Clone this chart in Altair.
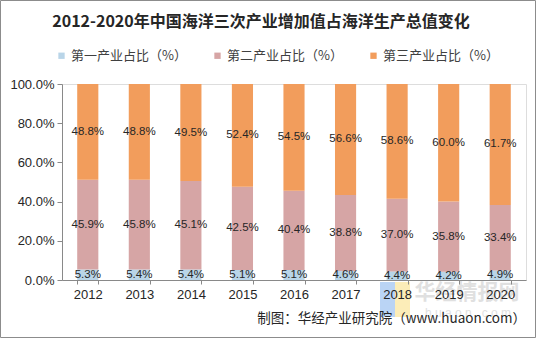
import altair as alt
import pandas as pd

years = ["2012", "2013", "2014", "2015", "2016", "2017", "2018", "2019", "2020"]
series = ["第一产业占比（%）", "第二产业占比（%）", "第三产业占比（%）"]
primary = [5.3, 5.4, 5.4, 5.1, 5.1, 4.6, 4.4, 4.2, 4.9]
secondary = [45.9, 45.8, 45.1, 42.5, 40.4, 38.8, 37.0, 35.8, 33.4]
tertiary = [48.8, 48.8, 49.5, 52.4, 54.5, 56.6, 58.6, 60.0, 61.7]
colors = ["#B9D5E8", "#D6A5A5", "#F29D5C"]
y_ticks = [0, 20, 40, 60, 80, 100]

rows = []
for i, y in enumerate(years):
    for k, vals in enumerate([primary, secondary, tertiary]):
        rows.append({"year": y, "series": series[k], "order": k, "value": vals[i]})
df = pd.DataFrame(rows)

FONT = "Liberation Sans"
CJK = "Noto Sans CJK SC"

base = alt.Chart(df).transform_stack(
    stack="value", groupby=["year"], sort=[alt.SortField("order")], as_=["y0", "y1"]
).transform_calculate(mid="(datum.y0 + datum.y1) / 2")

x_axis = alt.Axis(labelAngle=0, labelFont=FONT, labelFontSize=13, labelColor="#262626",
                  domainColor="#898989", tickColor="#898989", tickSize=4,
                  labelPadding=4, tickBand="extent", grid=False, title=None, zindex=1)
y_axis = alt.Axis(values=y_ticks, labelExpr="format(datum.value, '.1f') + '%'",
                  labelFont=FONT, labelFontSize=13, labelColor="#262626",
                  labelOverlap=False, labelBound=False, title=None,
                  domainColor="#898989", tickColor="#898989", tickSize=5,
                  labelPadding=3, grid=False, zindex=1)
x_scale = alt.Scale(paddingInner=0.59, paddingOuter=0.295)
y_scale = alt.Scale(domain=[0, 100], nice=False)

bars = base.mark_bar().encode(
    x=alt.X("year:N", sort=years, scale=x_scale, axis=x_axis),
    y=alt.Y("y0:Q", scale=y_scale, axis=y_axis),
    y2="y1:Q",
    color=alt.Color("series:N", sort=series,
                    scale=alt.Scale(domain=series, range=colors),
                    legend=alt.Legend(title=None, orient="none", direction="horizontal",
                                      legendX=-7, legendY=-35,
                                      symbolType="square", symbolSize=40,
                                      symbolStrokeWidth=0,
                                      labelFont=CJK, labelFontSize=13, labelColor="#404040",
                                      labelOffset=3, columnPadding=24)),
)

labels = base.mark_text(font=FONT, fontSize=11.5, color="#262626").encode(
    x=alt.X("year:N", sort=years, scale=x_scale, axis=x_axis),
    y=alt.Y("mid:Q", scale=y_scale, axis=y_axis),
    text=alt.Text("label:N"),
).transform_calculate(label="format(datum.value, '.1f') + '%'")

title = alt.Chart(pd.DataFrame({"t": ["2012-2020年中国海洋三次产业增加值占海洋生产总值变化"]})).mark_text(
    font=CJK, fontSize=16, fontWeight="bold", color="#262626",
    align="center", baseline="middle").encode(x=alt.value(199), y=alt.value(-62), text="t:N")

note_df = pd.DataFrame({"t": ["制图：华经产业研究院（www.huaon.com）"]})
note = alt.Chart(note_df).mark_text(font=CJK, fontSize=13.5, color="#262626",
                                    align="right", baseline="middle").encode(
    x=alt.value(464), y=alt.value(235), text="t:N")

logo_blue = alt.Chart(pd.DataFrame({"a": [0]})).mark_rect(
    color="#a9c9f2", opacity=0.8).encode(
    x=alt.value(318), x2=alt.value(333), y=alt.value(198), y2=alt.value(233))
logo_yellow = alt.Chart(pd.DataFrame({"a": [0]})).mark_rect(
    color="#fbe9a6", opacity=0.8).encode(
    x=alt.value(333), x2=alt.value(348), y=alt.value(198), y2=alt.value(233))

wm1 = alt.Chart(pd.DataFrame({"t": ["华经情报网"]})).mark_text(
    font=CJK, fontSize=21, fontWeight="bold", color="#9a9a9a", opacity=0.3,
    align="center", baseline="middle").encode(x=alt.value(405), y=alt.value(209), text="t:N")
wm2 = alt.Chart(pd.DataFrame({"t": ["h u a o n . c o m"]})).mark_text(
    font=FONT, fontSize=12, color="#9a9a9a", opacity=0.3,
    align="center", baseline="middle").encode(x=alt.value(406), y=alt.value(229), text="t:N")

border = alt.Chart(pd.DataFrame({"a": [0]})).mark_rect(
    fill=None, stroke="#8c8c8c", strokeWidth=1).encode(
    x=alt.value(-61.5), x2=alt.value(473.5), y=alt.value(-83.5), y2=alt.value(253.5))

chart = alt.layer(logo_blue, logo_yellow, bars, labels, title, wm1, wm2, note, border).properties(
    width=464, height=196,
    autosize=alt.AutoSizeParams(type="none"),
    padding={"left": 62, "top": 84, "right": 10, "bottom": 58},
).configure_view(stroke=None).configure(background="white")

chart.save("out.html", embed_options={"renderer": "svg", "actions": False})
